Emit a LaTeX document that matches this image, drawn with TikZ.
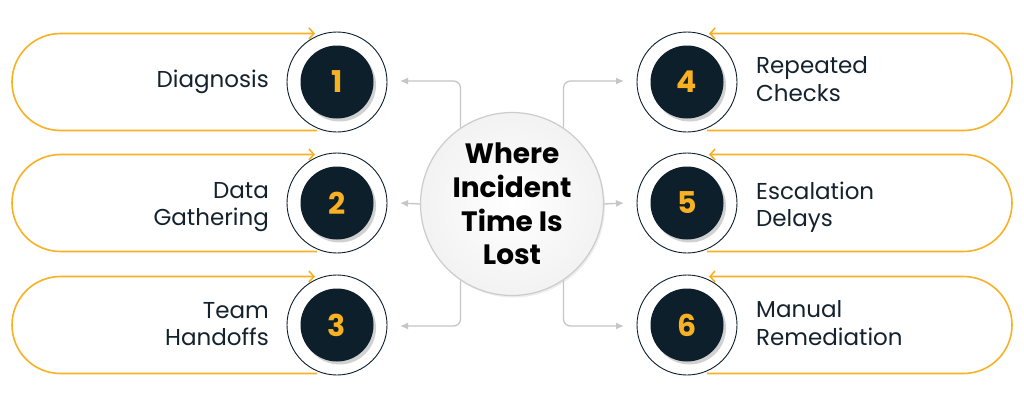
\documentclass[tikz,border=0pt]{standalone}
\usepackage{fontspec}
\setmainfont{Poppins}
\usetikzlibrary{arrows.meta,shadows}
\definecolor{orng}{HTML}{F9B124}
\definecolor{navy}{HTML}{0D1F2B}
\definecolor{txt}{HTML}{14222E}
\definecolor{conn}{HTML}{C6C6C6}
\begin{document}
\begin{tikzpicture}[x=1pt,y=1pt,
 pill/.style={draw=orng, line width=1.6pt},
 pilltip/.style={-{Straight Barb[length=5pt,width=11pt,line width=1.6pt]}},
 ring/.style={circle, draw=navy, fill=white, line width=0.9pt, minimum size=100pt, inner sep=0pt},
 num/.style={circle, fill=navy, minimum size=73pt, inner sep=0pt, text=orng,
   font=\fontsize{30}{30}\selectfont\bfseries,
   drop shadow={shadow xshift=2.5pt,shadow yshift=-3pt,opacity=0.18,fill=black}},
 lab/.style={text=txt, font=\fontsize{23}{27.5}\selectfont, inner sep=0pt},
 gline/.style={draw=conn, line width=1.3pt, rounded corners=7pt, -{Latex[length=8pt,width=7pt]}},
 hub/.style={circle, draw=gray!40, line width=1.2pt, minimum size=183pt, inner sep=0pt,
   inner color=white, outer color=gray!10, align=center,
   font=\fontsize{28}{33.7}\selectfont\bfseries}
]
\fill[white] (0,0) rectangle (1024,-413);
\useasboundingbox (0,0) rectangle (1024,-413);

% left pills
\foreach \y in {82,203,325}{
  \draw[pill,pilltip] (317,-\y-48.5) -- (60.5,-\y-48.5)
     arc[start angle=270,end angle=90,radius=48.5] -- (315,-\y+48.5);
}
% right pills
\foreach \y in {82,203,325}{
  \draw[pill,pilltip] (707,-\y-48.5) -- (963.5,-\y-48.5)
     arc[start angle=-90,end angle=90,radius=48.5] -- (709,-\y+48.5);
}

% circles
\node[ring] (r1) at (337,-82) {};
\node[ring] (r2) at (337,-203) {};
\node[ring] (r3) at (337,-325) {};
\node[ring] (r4) at (687,-82) {};
\node[ring] (r5) at (687,-203) {};
\node[ring] (r6) at (687,-325) {};
\node[num] (n1) at (r1) {1};
\node[num] (n2) at (r2) {2};
\node[num] (n3) at (r3) {3};
\node[num] (n4) at (r4) {4};
\node[num] (n5) at (r5) {5};
\node[num] (n6) at (r6) {6};

% labels
\node[lab, anchor=east, align=right] (t1) at (269,-82) {Diagnosis};
\node[lab, anchor=east, align=right] (t2) at (269,-207) {Data\\Gathering};
\node[lab, anchor=east, align=right] (t3) at (269,-324) {Team\\Handoffs};
\node[lab, anchor=west, align=left] (t4) at (756,-79) {Repeated\\Checks};
\node[lab, anchor=west, align=left] (t5) at (756,-207) {Escalation\\Delays};
\node[lab, anchor=west, align=left] (t6) at (756,-323) {Manual\\Remediation};

% hub
\node[hub, drop shadow={shadow xshift=1.5pt,shadow yshift=-2pt,opacity=0.07,fill=black}] (c) at (512,-204) {Where\\Incident\\Time Is\\Lost};

% connector ends
\coordinate (e1) at (400,-81);
\coordinate (e2) at (400,-203);
\coordinate (e3) at (400,-326);
\coordinate (e4) at (624,-81);
\coordinate (e5) at (624,-203);
\coordinate (e6) at (624,-326);
\draw[gline] (c.124) |- (e1);
\draw[gline] (c.west) -- (e2);
\draw[gline] (c.236) |- (e3);
\draw[gline] (c.56) |- (e4);
\draw[gline] (c.east) -- (e5);
\draw[gline] (c.304) |- (e6);
\end{tikzpicture}
\end{document}
